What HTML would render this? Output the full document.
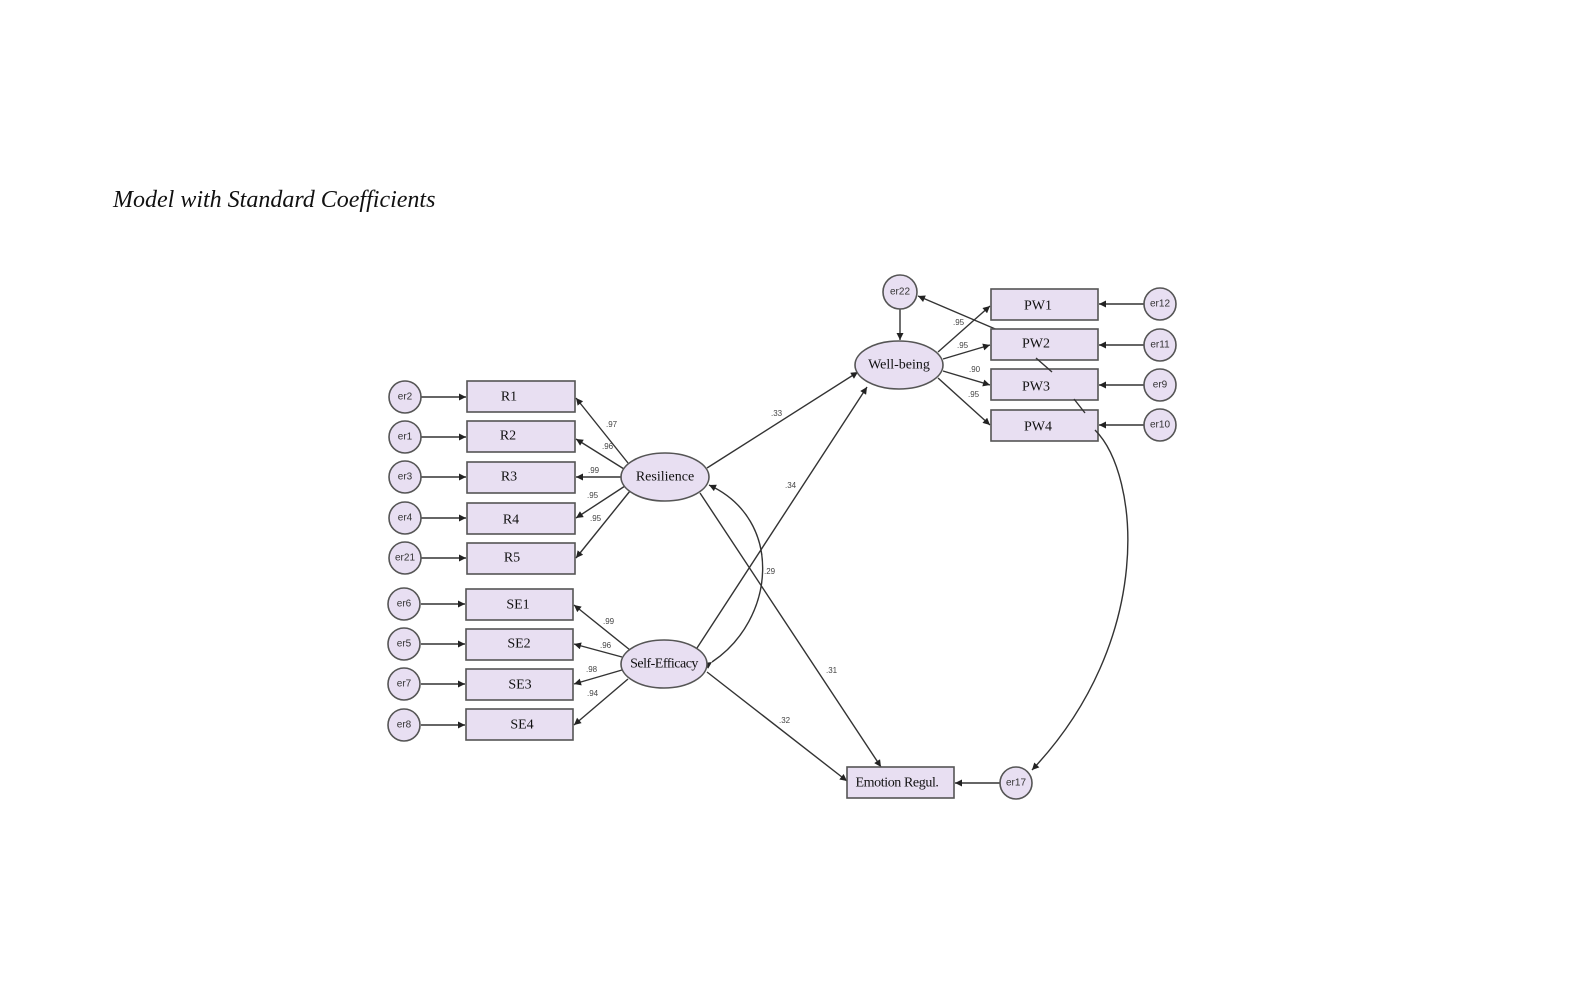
<!DOCTYPE html>
<html><head><meta charset="utf-8"><style>
body{margin:0;background:#fff;width:1571px;height:982px;overflow:hidden}
svg{display:block}
.b{fill:#e8dff2;stroke:#555;stroke-width:1.6}
.l{stroke:#333;stroke-width:1.4;fill:none}
.t{font-family:"Liberation Serif",serif;font-size:14px;fill:#111;text-anchor:middle;dominant-baseline:central}
.e{font-family:"Liberation Sans",sans-serif;font-size:10px;fill:#333;text-anchor:middle;dominant-baseline:central}
.n{font-family:"Liberation Sans",sans-serif;font-size:8px;fill:#444}
</style></head><body>
<svg width="1571" height="982" viewBox="0 0 1571 982">
<defs><marker id="a" viewBox="0 0 10 10" refX="10" refY="5" markerWidth="9" markerHeight="7" orient="auto" markerUnits="userSpaceOnUse"><path d="M0,0L10,5L0,10z" fill="#222"/></marker></defs>
<text x="113" y="207" font-family="Liberation Serif,serif" font-style="italic" font-size="24" fill="#111">Model with Standard Coefficients</text>

<g>
<line class="l" x1="421" y1="397" x2="466" y2="397" marker-end="url(#a)"/>
<line class="l" x1="421" y1="437" x2="466" y2="437" marker-end="url(#a)"/>
<line class="l" x1="421" y1="477" x2="466" y2="477" marker-end="url(#a)"/>
<line class="l" x1="421" y1="518" x2="466" y2="518" marker-end="url(#a)"/>
<line class="l" x1="421" y1="558" x2="466" y2="558" marker-end="url(#a)"/>
<line class="l" x1="421" y1="604" x2="465" y2="604" marker-end="url(#a)"/>
<line class="l" x1="421" y1="644" x2="465" y2="644" marker-end="url(#a)"/>
<line class="l" x1="421" y1="684" x2="465" y2="684" marker-end="url(#a)"/>
<line class="l" x1="421" y1="725" x2="465" y2="725" marker-end="url(#a)"/>
<g class="b"><circle cx="405" cy="397" r="16"/><circle cx="405" cy="437" r="16"/><circle cx="405" cy="477" r="16"/><circle cx="405" cy="518" r="16"/><circle cx="405" cy="558" r="16"/><circle cx="404" cy="604" r="16"/><circle cx="404" cy="644" r="16"/><circle cx="404" cy="684" r="16"/><circle cx="404" cy="725" r="16"/></g>
<text class="e" x="405" y="397">er2</text><text class="e" x="405" y="437">er1</text><text class="e" x="405" y="477">er3</text><text class="e" x="405" y="518">er4</text><text class="e" x="405" y="558">er21</text><text class="e" x="404" y="604">er6</text><text class="e" x="404" y="644">er5</text><text class="e" x="404" y="684">er7</text><text class="e" x="404" y="725">er8</text>
<g class="b"><rect x="467" y="381" width="108" height="31"/><rect x="467" y="421" width="108" height="31"/><rect x="467" y="462" width="108" height="31"/><rect x="467" y="503" width="108" height="31"/><rect x="467" y="543" width="108" height="31"/><rect x="466" y="589" width="107" height="31"/><rect x="466" y="629" width="107" height="31"/><rect x="466" y="669" width="107" height="31"/><rect x="466" y="709" width="107" height="31"/></g>
<text class="t" x="509" y="397">R1</text><text class="t" x="508" y="436">R2</text><text class="t" x="509" y="477">R3</text><text class="t" x="511" y="520">R4</text><text class="t" x="512" y="558">R5</text><text class="t" x="518" y="605">SE1</text><text class="t" x="519" y="644">SE2</text><text class="t" x="520" y="685">SE3</text><text class="t" x="522" y="725">SE4</text>
<line class="l" x1="628" y1="463" x2="576" y2="398" marker-end="url(#a)"/>
<line class="l" x1="624" y1="469" x2="576" y2="439" marker-end="url(#a)"/>
<line class="l" x1="621" y1="477" x2="576" y2="477" marker-end="url(#a)"/>
<line class="l" x1="625" y1="486" x2="576" y2="518" marker-end="url(#a)"/>
<line class="l" x1="630" y1="491" x2="576" y2="558" marker-end="url(#a)"/>
<line class="l" x1="630" y1="650" x2="574" y2="605" marker-end="url(#a)"/>
<line class="l" x1="622" y1="657" x2="574" y2="644" marker-end="url(#a)"/>
<line class="l" x1="622" y1="670" x2="574" y2="684" marker-end="url(#a)"/>
<line class="l" x1="628" y1="679" x2="574" y2="725" marker-end="url(#a)"/>
<text class="n" x="606" y="427">.97</text><text class="n" x="602" y="449">.96</text><text class="n" x="588" y="473">.99</text><text class="n" x="587" y="498">.95</text><text class="n" x="590" y="521">.95</text>
<text class="n" x="603" y="624">.99</text><text class="n" x="600" y="648">.96</text><text class="n" x="586" y="672">.98</text><text class="n" x="587" y="696">.94</text>
</g>

<line class="l" x1="707" y1="468" x2="858" y2="372" marker-end="url(#a)"/>
<line class="l" x1="697" y1="648" x2="867" y2="387" marker-end="url(#a)"/>
<line class="l" x1="700" y1="493" x2="881" y2="767" marker-end="url(#a)"/>
<line class="l" x1="707" y1="672" x2="847" y2="781" marker-end="url(#a)"/>
<path class="l" d="M712,662 C775,620 785,520 709,485" marker-start="url(#a)" marker-end="url(#a)"/>
<text class="n" x="771" y="416">.33</text><text class="n" x="785" y="488">.34</text><text class="n" x="764" y="574">.29</text><text class="n" x="826" y="673">.31</text><text class="n" x="779" y="723">.32</text>

<line class="l" x1="900" y1="309" x2="900" y2="340" marker-end="url(#a)"/>
<line class="l" x1="1000" y1="331" x2="918" y2="296" marker-end="url(#a)"/>
<line class="l" x1="938" y1="352" x2="990" y2="306" marker-end="url(#a)"/>
<line class="l" x1="943" y1="359" x2="990" y2="345" marker-end="url(#a)"/>
<line class="l" x1="943" y1="371" x2="990" y2="385" marker-end="url(#a)"/>
<line class="l" x1="938" y1="378" x2="990" y2="425" marker-end="url(#a)"/>
<text class="n" x="953" y="325">.95</text><text class="n" x="957" y="348">.95</text><text class="n" x="969" y="372">.90</text><text class="n" x="968" y="397">.95</text>
<line class="l" x1="1144" y1="304" x2="1099" y2="304" marker-end="url(#a)"/>
<line class="l" x1="1144" y1="345" x2="1099" y2="345" marker-end="url(#a)"/>
<line class="l" x1="1144" y1="385" x2="1099" y2="385" marker-end="url(#a)"/>
<line class="l" x1="1144" y1="425" x2="1099" y2="425" marker-end="url(#a)"/>
<g class="b"><rect x="991" y="289" width="107" height="31"/><rect x="991" y="329" width="107" height="31"/><rect x="991" y="369" width="107" height="31"/><rect x="991" y="410" width="107" height="31"/>
<circle cx="1160" cy="304" r="16"/><circle cx="1160" cy="345" r="16"/><circle cx="1160" cy="385" r="16"/><circle cx="1160" cy="425" r="16"/><circle cx="900" cy="292" r="17"/></g>
<line class="l" x1="1036" y1="358" x2="1052" y2="372"/>
<line class="l" x1="1074" y1="399" x2="1085" y2="413"/>
<path class="l" d="M1095,430 C1140,475 1155,640 1032,770" marker-end="url(#a)"/>
<text class="t" x="1038" y="306">PW1</text><text class="t" x="1036" y="344">PW2</text><text class="t" x="1036" y="387">PW3</text><text class="t" x="1038" y="427">PW4</text>
<text class="e" x="1160" y="304">er12</text><text class="e" x="1160" y="345">er11</text><text class="e" x="1160" y="385">er9</text><text class="e" x="1160" y="425">er10</text><text class="e" x="900" y="292">er22</text>

<g class="b"><ellipse cx="665" cy="477" rx="44" ry="24"/><ellipse cx="664" cy="664" rx="43" ry="24"/><ellipse cx="899" cy="365" rx="44" ry="24"/></g>
<text class="t" x="665" y="477" font-size="13.5">Resilience</text>
<text class="t" x="664" y="664" font-size="13.5" letter-spacing="-0.5">Self-Efficacy</text>
<text class="t" x="899" y="365" font-size="13.5">Well-being</text>

<line class="l" x1="1000" y1="783" x2="955" y2="783" marker-end="url(#a)"/>
<rect class="b" x="847" y="767" width="107" height="31"/>
<text class="t" x="897" y="783" font-size="13.5" letter-spacing="-0.4">Emotion Regul.</text>
<circle class="b" cx="1016" cy="783" r="16"/>
<text class="e" x="1016" y="783">er17</text>
</svg>
</body></html>
